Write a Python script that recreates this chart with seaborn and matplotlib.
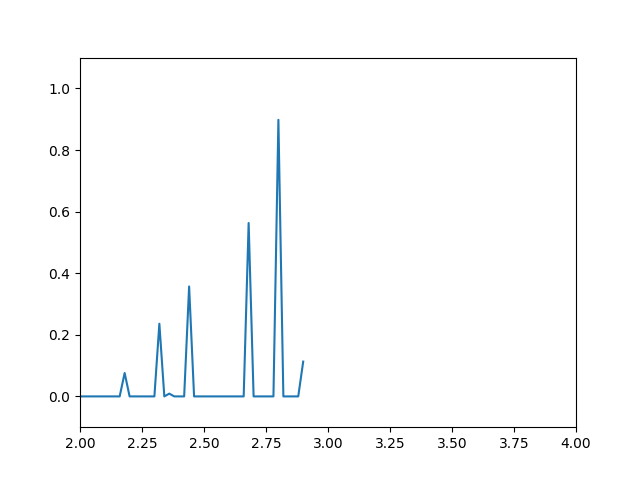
import matplotlib
matplotlib.use('Agg')
import matplotlib.pyplot as plt
import seaborn as sns
import pandas as pd

# x positions sampled every 0.02
x_vals = [2.00, 2.02, 2.04, 2.06, 2.08, 2.10, 2.12, 2.14, 2.16, 2.18,
          2.20, 2.22, 2.24, 2.26, 2.28, 2.30, 2.32, 2.34, 2.36, 2.38,
          2.40, 2.42, 2.44, 2.46, 2.48, 2.50, 2.52, 2.54, 2.56, 2.58,
          2.60, 2.62, 2.64, 2.66, 2.68, 2.70, 2.72, 2.74, 2.76, 2.78,
          2.80, 2.82, 2.84, 2.86, 2.88, 2.90]
y_vals = [0, 0, 0, 0, 0, 0, 0, 0, 0, 0.076,
          0, 0, 0, 0, 0, 0, 0.236, 0, 0.009, 0,
          0, 0, 0.357, 0, 0, 0, 0, 0, 0, 0,
          0, 0, 0, 0, 0.563, 0, 0, 0, 0, 0,
          0.898, 0, 0, 0, 0, 0.113]

df = pd.DataFrame({'x': x_vals, 'y': y_vals})

fig, ax = plt.subplots(figsize=(6.4, 4.8), dpi=100)
sns.lineplot(data=df, x='x', y='y', ax=ax, color='#1f77b4', linewidth=1.5)
ax.set_xlim(2, 4)
ax.set_ylim(-0.1, 1.1)
ax.set_xlabel('')
ax.set_ylabel('')

plt.savefig('out.png', dpi=100)
